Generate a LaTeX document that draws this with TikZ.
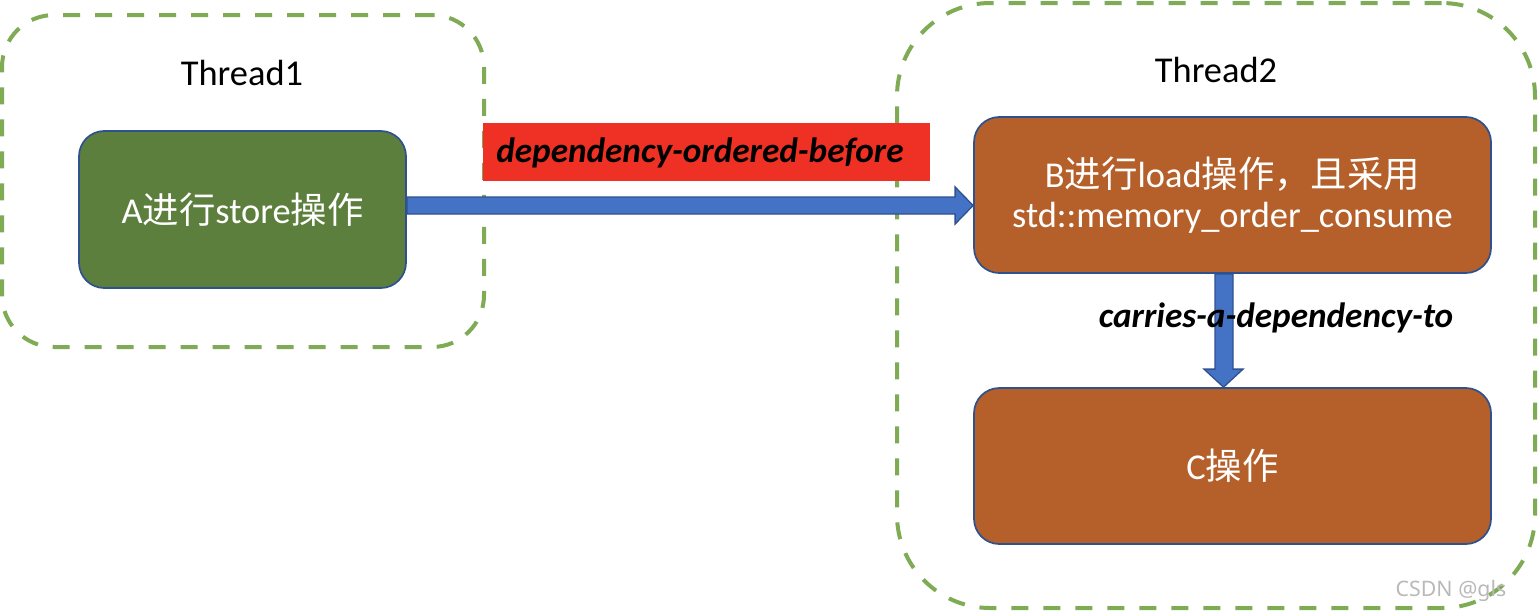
\documentclass[tikz,border=0pt]{standalone}
\usepackage{fontspec}
\setmainfont{Carlito}
\newfontfamily\cjk{Noto Sans CJK SC}
\newfontfamily\wmfont{Noto Sans}
\usetikzlibrary{calc}
\definecolor{tgreen}{HTML}{7FAB55}
\definecolor{agreen}{HTML}{5D7F3E}
\definecolor{borange}{HTML}{B5602A}
\definecolor{bborder}{HTML}{2F528F}
\definecolor{arrowblue}{HTML}{4472C4}
\definecolor{lred}{HTML}{EE3124}
\tikzset{
  threadbox/.style={draw=tgreen, line width=3pt, dash pattern=on 12.75pt off 11.25pt, rounded corners=39pt, inner sep=0pt},
  opbox/.style={draw=bborder, line width=1.3pt, rounded corners=19pt, text=white, align=center, inner sep=0pt,
    font=\fontsize{27.3}{30}\selectfont},
  threadlabel/.style={font=\fontsize{27.3}{30}\selectfont, text=black},
  edgelabel/.style={font=\fontsize{26.4}{28}\selectfont\bfseries\itshape, text=black},
  blockarrow/.style={fill=arrowblue, draw=bborder, line width=1pt, line join=miter}
}
\begin{document}
\begin{tikzpicture}[x=0.75pt,y=-0.75pt]
\useasboundingbox (0,0) rectangle (1538,612);
% thread containers
\node[threadbox, minimum width=361.5pt, minimum height=249pt] (T1) at (243,181) {};
\node[threadbox, rounded corners=70pt, minimum width=478.5pt, minimum height=453.75pt] (T2) at (1216,305.5) {};
\node[threadlabel] (t1lab) at (242,73) {Thread1};
\node[threadlabel] (t2lab) at (1216,70) {Thread2};
% operation boxes
\node[opbox, fill=agreen, minimum width=245.25pt, minimum height=117.75pt] (A) at (242.5,209.5) {A{\cjk 进行}store{\cjk 操作}};
\node[opbox, fill=borange, minimum width=387.75pt, minimum height=117pt] (B) at (1232.5,195) {B{\cjk 进行}load{\cjk 操作，且采用}\\std::memory\_order\_consume};
\node[opbox, fill=borange, minimum width=387.75pt, minimum height=117pt] (C) at (1232.5,466) {C{\cjk 操作}};
% red label
\node[fill=lred, minimum width=335.25pt, minimum height=43.5pt, inner sep=0pt] (lbl) at (706.5,152) {};
\node[edgelabel] (lbltext) at (700,153) {dependency-ordered-before};
% horizontal block arrow A -> B
\coordinate (hb) at ($(B.west)+(-18,0)$);
\draw[blockarrow] (A.east |- 0,197) -- (hb |- 0,197) -- (hb |- 0,187) -- (B.west |- 0,205.5)
  -- (hb |- 0,224) -- (hb |- 0,214) -- (A.east |- 0,214) -- cycle;
% vertical block arrow B -> C
\coordinate (vb) at ($(C.north)+(0,-18)$);
\draw[blockarrow] (B.south -| 1215,0) -- (vb -| 1215,0) -- (vb -| 1204,0) -- (C.north -| 1223.5,0)
  -- (vb -| 1243,0) -- (vb -| 1233,0) -- (B.south -| 1233,0) -- cycle;
\node[edgelabel] (carr) at (1276,318) {carries-a-dependency-to};
% watermark
\node[text=gray!55, font=\wmfont\fontsize{16}{18}\selectfont, anchor=west] (wm) at (1391,591) {CSDN @gls};
\end{tikzpicture}
\end{document}
